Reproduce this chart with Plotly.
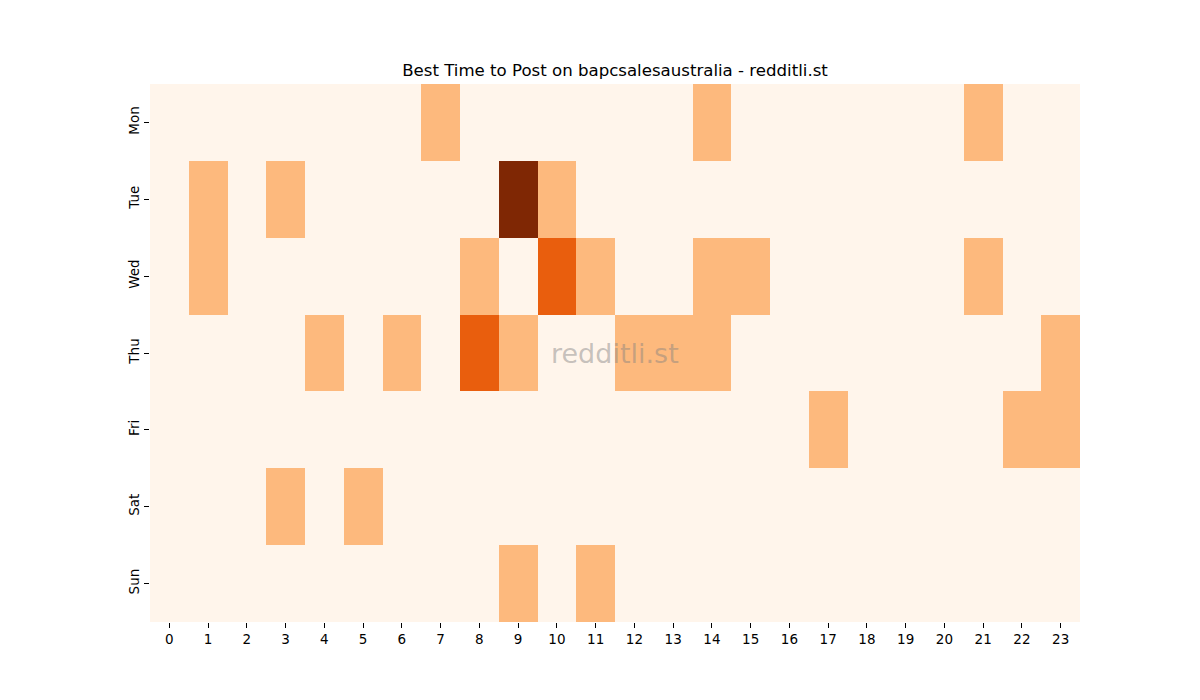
import plotly.graph_objects as go

days = ["Mon", "Tue", "Wed", "Thu", "Fri", "Sat", "Sun"]
hours = list(range(24))

mon = [0,0,0,0,0,0,0,1,0,0,0,0,0,0,1,0,0,0,0,0,0,1,0,0]
tue = [0,1,0,1,0,0,0,0,0,3,1,0,0,0,0,0,0,0,0,0,0,0,0,0]
wed = [0,1,0,0,0,0,0,0,1,0,2,1,0,0,1,1,0,0,0,0,0,1,0,0]
thu = [0,0,0,0,1,0,1,0,2,1,0,0,1,1,1,0,0,0,0,0,0,0,0,1]
fri = [0,0,0,0,0,0,0,0,0,0,0,0,0,0,0,0,0,1,0,0,0,0,1,1]
sat = [0,0,0,1,0,1,0,0,0,0,0,0,0,0,0,0,0,0,0,0,0,0,0,0]
sun = [0,0,0,0,0,0,0,0,0,1,0,1,0,0,0,0,0,0,0,0,0,0,0,0]

z = [mon, tue, wed, thu, fri, sat, sun]

colorscale = [
    [0.0, "#fff5eb"],
    [1/3, "#fdb97d"],
    [2/3, "#e95e0d"],
    [1.0, "#7f2704"],
]

fig = go.Figure(go.Heatmap(
    z=z, x=hours, y=days, colorscale=colorscale, zmin=0, zmax=3,
    showscale=False, xgap=0, ygap=0, hoverongaps=False,
))

fig.update_layout(
    width=1200, height=700,
    margin=dict(l=150, r=120, t=84, b=78),
    paper_bgcolor="white", plot_bgcolor="white",
    font=dict(family="DejaVu Sans", size=13.5, color="black"),
    title=dict(text="Best Time to Post on bapcsalesaustralia - redditli.st",
               xref="paper", x=0.5, xanchor="center", y=1 - 70/700, yanchor="middle",
               font=dict(size=16.6, family="DejaVu Sans", color="black")),
    annotations=[dict(text="redditli.st", x=0.5, y=0.5, xref="paper", yref="paper",
                      showarrow=False, font=dict(size=27, family="DejaVu Sans",
                                                 color="rgba(128,128,128,0.45)"))],
)
fig.update_xaxes(tickmode="array", tickvals=hours, ticktext=[str(h) for h in hours],
                 ticks="outside", ticklen=5, tickcolor="black", showgrid=False,
                 zeroline=False, showline=False, range=[-0.5, 23.5])
fig.update_yaxes(autorange="reversed", ticks="outside", ticklen=5, tickcolor="black",
                 tickangle=-90, showgrid=False, zeroline=False, showline=False)

fig.write_html("out.html")
